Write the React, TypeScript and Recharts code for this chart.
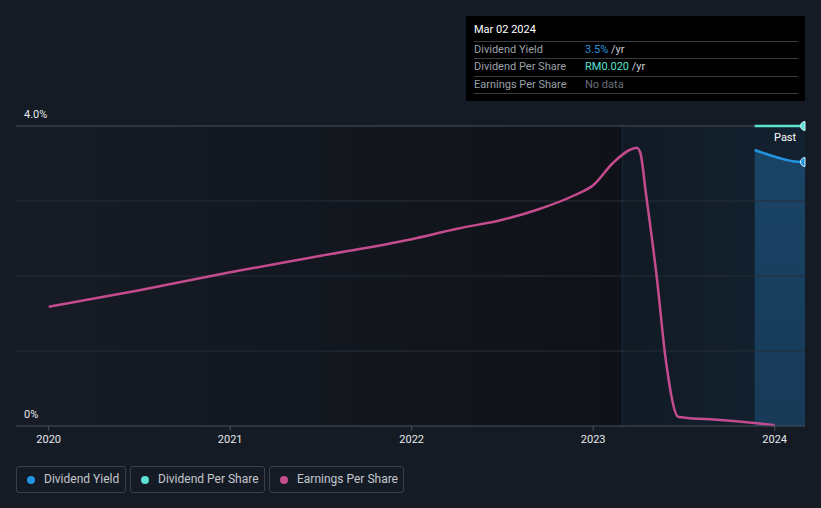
import React from 'react';
import { ComposedChart, Line, Area, XAxis, YAxis, ReferenceArea, ReferenceLine } from 'recharts';

const epsYears = [2020.0, 2020.5, 2021.0, 2021.5, 2022.0, 2022.25, 2022.5, 2022.7, 2022.9, 2023.0, 2023.11, 2023.2, 2023.24, 2023.26, 2023.29, 2023.35, 2023.4, 2023.47, 2023.7, 2023.89, 2024.0];
const epsValues = [1.59, 1.81, 2.05, 2.27, 2.49, 2.63, 2.75, 2.89, 3.08, 3.21, 3.51, 3.68, 3.71, 3.64, 3.11, 1.99, 0.88, 0.12, 0.08, 0.04, 0.01];

const dyYears = [2023.89, 2023.95, 2024.03, 2024.1, 2024.167];
const dyValues = [3.68, 3.63, 3.57, 3.53, 3.52];

const dpsYears = [2023.89, 2024.167];
const dpsValues = [0.02, 0.02];

const xTicks = [2020, 2021, 2022, 2023, 2024];
const gridValues = [1, 2, 3];
const yLabelValues = [0, 4];
const yLabels: Record<number, string> = { 0: '0%', 4: '4.0%' };

const epsData = epsYears.map((t, i) => ({ t, eps: epsValues[i] }));
const dyData = dyYears.map((t, i) => ({ t, dy: dyValues[i] }));
const dpsData = dpsYears.map((t, i) => ({ t, dps: dpsValues[i] }));

const FONT = 'Roboto, "Noto Sans", sans-serif';
const X_MIN = 2019.82;
const X_MAX = 2024.167;
const HIGHLIGHT_START = 2023.16;

const yLabel = (text: string) => (props: any) => {
  const vb = props.viewBox || {};
  return (
    <text x={(vb.x || 0) + 8} y={(vb.y || 0) - 12} dy="0.35em" fill="#e6e8eb" fontSize={11} fontFamily={FONT}>
      {text}
    </text>
  );
};

const EndDot = (color: string, last: number) => (props: any) => {
  const { cx, cy, index } = props;
  if (index !== last || cx == null || cy == null) return <g key={index} />;
  const r = 4.5;
  return (
    <path
      key={index}
      d={`M ${cx} ${cy - r} A ${r} ${r} 0 0 0 ${cx} ${cy + r} Z`}
      fill={color}
      stroke="#d8f0ff"
      strokeWidth={1}
    />
  );
};

const legendItems = [
  { label: 'Dividend Yield', color: '#2394df', left: 16, width: 110 },
  { label: 'Dividend Per Share', color: '#5be2d0', left: 130, width: 135 },
  { label: 'Earnings Per Share', color: '#c44c8e', left: 269, width: 135 },
];

export default function App() {
  return (
    <div style={{ position: 'absolute', left: 0, top: 0, width: 821, height: 508, background: '#151b25', fontFamily: FONT, overflow: 'hidden' }}>
      <ComposedChart width={821} height={508} margin={{ top: 126, right: 16, left: 16, bottom: 52 }}>
        <defs>
          <linearGradient id="leftBg" x1="0" y1="0" x2="1" y2="0">
            <stop offset="0%" stopColor="#161b25" />
            <stop offset="100%" stopColor="#0f1218" />
          </linearGradient>
          <linearGradient id="hiBg" x1="0" y1="0" x2="1" y2="0">
            <stop offset="0%" stopColor="#111a24" />
            <stop offset="100%" stopColor="#132231" />
          </linearGradient>
          <linearGradient id="pastFill" x1="0" y1="0" x2="0" y2="1">
            <stop offset="0%" stopColor="#1a4466" />
            <stop offset="100%" stopColor="#173a57" />
          </linearGradient>
        </defs>
        <XAxis
          dataKey="t"
          type="number"
          domain={[X_MIN, X_MAX]}
          ticks={xTicks}
          tickFormatter={(v: number) => String(v)}
          tick={{ fill: '#e6e8eb', fontSize: 11, fontFamily: FONT }}
          tickLine={{ stroke: '#4b505b' }}
          axisLine={{ stroke: '#4b505b' }}
          tickSize={5}
          tickMargin={4}
          height={30}
        />
        <YAxis yAxisId="pct" domain={[0, 4]} hide />
        <YAxis yAxisId="dps" domain={[0, 0.02]} hide />
        <ReferenceArea yAxisId="pct" x1={X_MIN} x2={HIGHLIGHT_START} y1={0} y2={4} fill="url(#leftBg)" fillOpacity={1} stroke="none" />
        <ReferenceArea yAxisId="pct" x1={HIGHLIGHT_START} x2={X_MAX} y1={0} y2={4} fill="url(#hiBg)" fillOpacity={1} stroke="none" />
        <ReferenceLine yAxisId="pct" x={HIGHLIGHT_START} stroke="#1c2634" strokeWidth={1} />
        {gridValues.map((v) => (
          <ReferenceLine key={v} yAxisId="pct" y={v} stroke="#272e39" strokeWidth={1} />
        ))}
        {yLabelValues.map((v) => (
          <ReferenceLine
            key={'l' + v}
            yAxisId="pct"
            y={v}
            stroke={v === 4 ? '#4b505b' : 'none'}
            strokeWidth={1}
            label={yLabel(yLabels[v])}
          />
        ))}
        <Area
          yAxisId="pct"
          data={dyData}
          dataKey="dy"
          type="monotone"
          stroke="none"
          fill="url(#pastFill)"
          fillOpacity={1}
          isAnimationActive={false}
          dot={false}
          activeDot={false}
        />
        <Line
          yAxisId="pct"
          data={epsData}
          dataKey="eps"
          type="monotone"
          stroke="#c44c8e"
          strokeWidth={2.5}
          dot={false}
          activeDot={false}
          isAnimationActive={false}
        />
        <Line
          yAxisId="pct"
          data={dyData}
          dataKey="dy"
          type="monotone"
          stroke="#2394df"
          strokeWidth={2.5}
          dot={EndDot('#2394df', dyData.length - 1)}
          activeDot={false}
          isAnimationActive={false}
        />
        <Line
          yAxisId="dps"
          data={dpsData}
          dataKey="dps"
          type="linear"
          stroke="#5be2d0"
          strokeWidth={2.5}
          dot={EndDot('#5be2d0', dpsData.length - 1)}
          activeDot={false}
          isAnimationActive={false}
        />
      </ComposedChart>

      <div style={{ position: 'absolute', left: 774, top: 131, fontSize: 11, color: '#ffffff', lineHeight: '14px' }}>Past</div>

      <div style={{ position: 'absolute', left: 466, top: 16, width: 339, height: 85, background: '#000000' }}>
        <div style={{ position: 'absolute', left: 8, top: 7, fontSize: 11, color: '#ffffff', lineHeight: '14px' }}>Mar 02 2024</div>
        {[25, 42, 60, 77].map((t) => (
          <div key={t} style={{ position: 'absolute', left: 8, top: t, width: 324, height: 1, background: '#363b44' }} />
        ))}
        {[
          { label: 'Dividend Yield', value: '3.5%', color: '#2394df', unit: ' /yr', top: 26 },
          { label: 'Dividend Per Share', value: 'RM0.020', color: '#5be2d0', unit: ' /yr', top: 43 },
          { label: 'Earnings Per Share', value: 'No data', color: '#6b7079', unit: '', top: 61 },
        ].map((r) => (
          <React.Fragment key={r.label}>
            <div style={{ position: 'absolute', left: 8, top: r.top, fontSize: 11, color: '#9ba0a8', lineHeight: '15px' }}>{r.label}</div>
            <div style={{ position: 'absolute', left: 119, top: r.top, fontSize: 11, lineHeight: '15px', whiteSpace: 'pre' }}>
              <span style={{ color: r.color }}>{r.value}</span>
              <span style={{ color: '#c8ccd2' }}>{r.unit}</span>
            </div>
          </React.Fragment>
        ))}
      </div>

      {legendItems.map((it) => (
        <div
          key={it.label}
          style={{
            position: 'absolute',
            left: it.left,
            top: 466,
            width: it.width,
            height: 27,
            boxSizing: 'border-box',
            border: '1px solid #3a3f49',
            borderRadius: 3,
          }}
        >
          <div style={{ position: 'absolute', left: 10, top: 8.5, width: 8, height: 8, borderRadius: 4, background: it.color }} />
          <div style={{ position: 'absolute', left: 27, top: 5, fontSize: 12, color: '#c3c7cd', lineHeight: '15px', whiteSpace: 'nowrap' }}>{it.label}</div>
        </div>
      ))}
    </div>
  );
}
